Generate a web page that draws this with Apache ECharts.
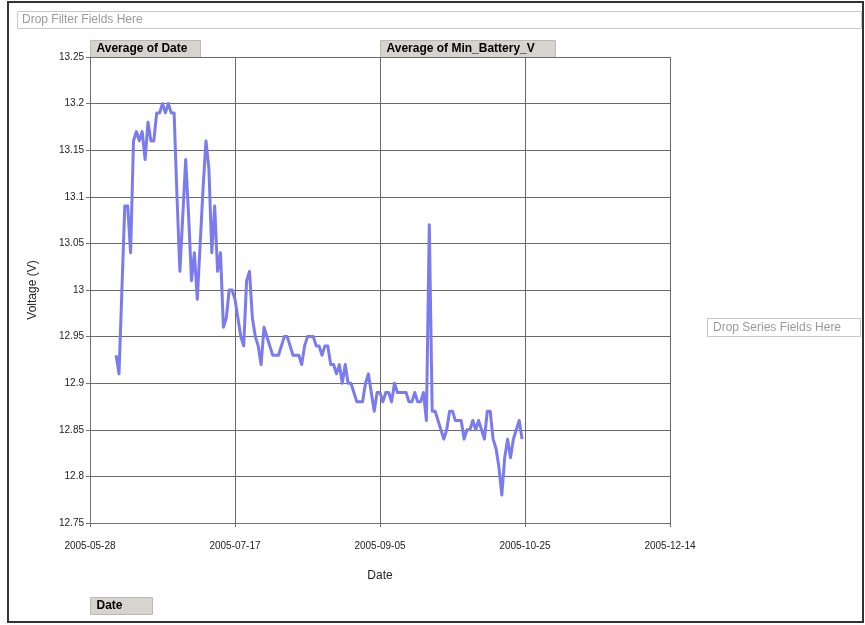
<!DOCTYPE html>
<html>
<head>
<meta charset="utf-8">
<script src="https://cdn.jsdelivr.net/npm/echarts@6/dist/echarts.min.js"></script>
<style>
  html, body { margin: 0; padding: 0; background: #ffffff; }
  #chart { width: 865px; height: 625px; }
</style>
</head>
<body>
<div id="chart"></div>
<script>
// Axis origin and tick labels (x axis counts days from the origin date)
const originDate = '2005-05-28';
const xTickLabels = ['2005-05-28', '2005-07-17', '2005-09-05', '2005-10-25', '2005-12-14'];
const yTickLabels = ['12.75', '12.8', '12.85', '12.9', '12.95', '13', '13.05', '13.1', '13.15', '13.2', '13.25'];

// Daily readings, one per day starting on firstDate
const firstDate = '2005-06-06';
const minBatteryV = [
  12.93, 12.91, 13.00, 13.09, 13.09, 13.04, 13.16, 13.17, 13.16, 13.17,
  13.14, 13.18, 13.16, 13.16, 13.19, 13.19, 13.20, 13.19, 13.20, 13.19,
  13.19, 13.10, 13.02, 13.08, 13.14, 13.08, 13.01, 13.04, 12.99, 13.05,
  13.11, 13.16, 13.13, 13.04, 13.09, 13.02, 13.04, 12.96, 12.97, 13.00,
  13.00, 12.99, 12.97, 12.95, 12.94, 13.01, 13.02, 12.97, 12.95, 12.94,
  12.92, 12.96, 12.95, 12.94, 12.93, 12.93, 12.93, 12.94, 12.95, 12.95,
  12.94, 12.93, 12.93, 12.93, 12.92, 12.94, 12.95, 12.95, 12.95, 12.94,
  12.94, 12.93, 12.94, 12.94, 12.92, 12.92, 12.91, 12.92, 12.90, 12.92,
  12.90, 12.90, 12.89, 12.88, 12.88, 12.88, 12.90, 12.91, 12.89, 12.87,
  12.89, 12.89, 12.88, 12.89, 12.89, 12.88, 12.90, 12.89, 12.89, 12.89,
  12.89, 12.88, 12.88, 12.89, 12.88, 12.88, 12.89, 12.86, 13.07, 12.87,
  12.87, 12.86, 12.85, 12.84, 12.85, 12.87, 12.87, 12.86, 12.86, 12.86,
  12.84, 12.85, 12.85, 12.86, 12.85, 12.86, 12.85, 12.84, 12.87, 12.87,
  12.84, 12.83, 12.81, 12.78, 12.82, 12.84, 12.82, 12.84, 12.85, 12.86,
  12.84
];

const DAY = 86400000;
const originMs = Date.parse(originDate + 'T00:00:00Z');
const firstOffset = Math.round((Date.parse(firstDate + 'T00:00:00Z') - originMs) / DAY);
const seriesData = minBatteryV.map((v, i) => [firstOffset + i, v]);
const xMax = (xTickLabels.length - 1) * 50;

function dayLabel(d) {
  const idx = Math.round(d / 50);
  return xTickLabels[idx] !== undefined ? xTickLabels[idx] : '';
}
function voltLabel(v) {
  const idx = Math.round((v - 12.75) / 0.05);
  return yTickLabels[idx] !== undefined ? yTickLabels[idx] : '';
}

const FONT = 'Liberation Sans, Arial, sans-serif';

function button(x, y, w, h, text) {
  return [
    { type: 'rect', shape: { x: x, y: y, width: w, height: h },
      style: { fill: '#d7d4cf', stroke: '#bdbab4', lineWidth: 1 } },
    { type: 'text', x: x + 6, y: y + h / 2,
      style: { text: text, font: 'bold 12px ' + FONT, fill: '#000', textVerticalAlign: 'middle' } }
  ];
}

const chart = echarts.init(document.getElementById('chart'), null, { renderer: 'canvas' });
chart.setOption({
  backgroundColor: '#ffffff',
  animation: false,
  grid: { left: 90, right: 195, top: 57, bottom: 102, containLabel: false },
  xAxis: {
    type: 'value', min: 0, max: xMax, interval: 50,
    name: 'Date', nameLocation: 'middle', nameGap: 47,
    nameTextStyle: { color: '#222', fontSize: 12, fontFamily: FONT },
    axisLine: { show: true, lineStyle: { color: '#707070', width: 1 } },
    axisTick: { show: true, length: 4, lineStyle: { color: '#707070' } },
    axisLabel: { color: '#222', fontSize: 10, fontFamily: FONT, margin: 18, formatter: dayLabel },
    splitLine: { show: true, lineStyle: { color: '#6a6a6a', width: 1 } }
  },
  yAxis: {
    type: 'value', min: 12.75, max: 13.25, interval: 0.05,
    name: 'Voltage (V)', nameLocation: 'middle', nameGap: 51, nameRotate: 90,
    nameTextStyle: { color: '#222', fontSize: 12, fontFamily: FONT },
    axisLine: { show: true, lineStyle: { color: '#707070', width: 1 } },
    axisTick: { show: true, length: 4, lineStyle: { color: '#707070' } },
    axisLabel: { color: '#222', fontSize: 10, fontFamily: FONT, margin: 6, formatter: voltLabel },
    splitLine: { show: true, lineStyle: { color: '#6a6a6a', width: 1 } }
  },
  series: [{
    name: 'Average of Min_Battery_V',
    type: 'line',
    data: seriesData,
    showSymbol: false,
    symbol: 'none',
    lineStyle: { color: '#7b7bf0', width: 3, join: 'round' },
    z: 3
  }],
  graphic: [
    // outer frame
    { type: 'rect', shape: { x: 8, y: 2, width: 855, height: 620 },
      style: { fill: 'none', stroke: '#333', lineWidth: 2 }, z: 10 },
    // filter drop zone
    { type: 'rect', shape: { x: 17.5, y: 11.5, width: 844, height: 17 },
      style: { fill: '#fff', stroke: '#c8c8c8', lineWidth: 1 } },
    { type: 'text', x: 22, y: 20,
      style: { text: 'Drop Filter Fields Here', font: '12px ' + FONT, fill: '#9a9a9a', textVerticalAlign: 'middle' } },
    // series drop zone
    { type: 'rect', shape: { x: 707.5, y: 318.5, width: 153, height: 18 },
      style: { fill: '#fff', stroke: '#c8c8c8', lineWidth: 1 } },
    { type: 'text', x: 713, y: 328,
      style: { text: 'Drop Series Fields Here', font: '12px ' + FONT, fill: '#9a9a9a', textVerticalAlign: 'middle' } },
    ...button(90.5, 40.5, 110, 17, 'Average of Date'),
    ...button(380.5, 40.5, 175, 17, 'Average of Min_Battery_V'),
    ...button(90.5, 597.5, 62, 17, 'Date')
  ]
});
</script>
</body>
</html>
